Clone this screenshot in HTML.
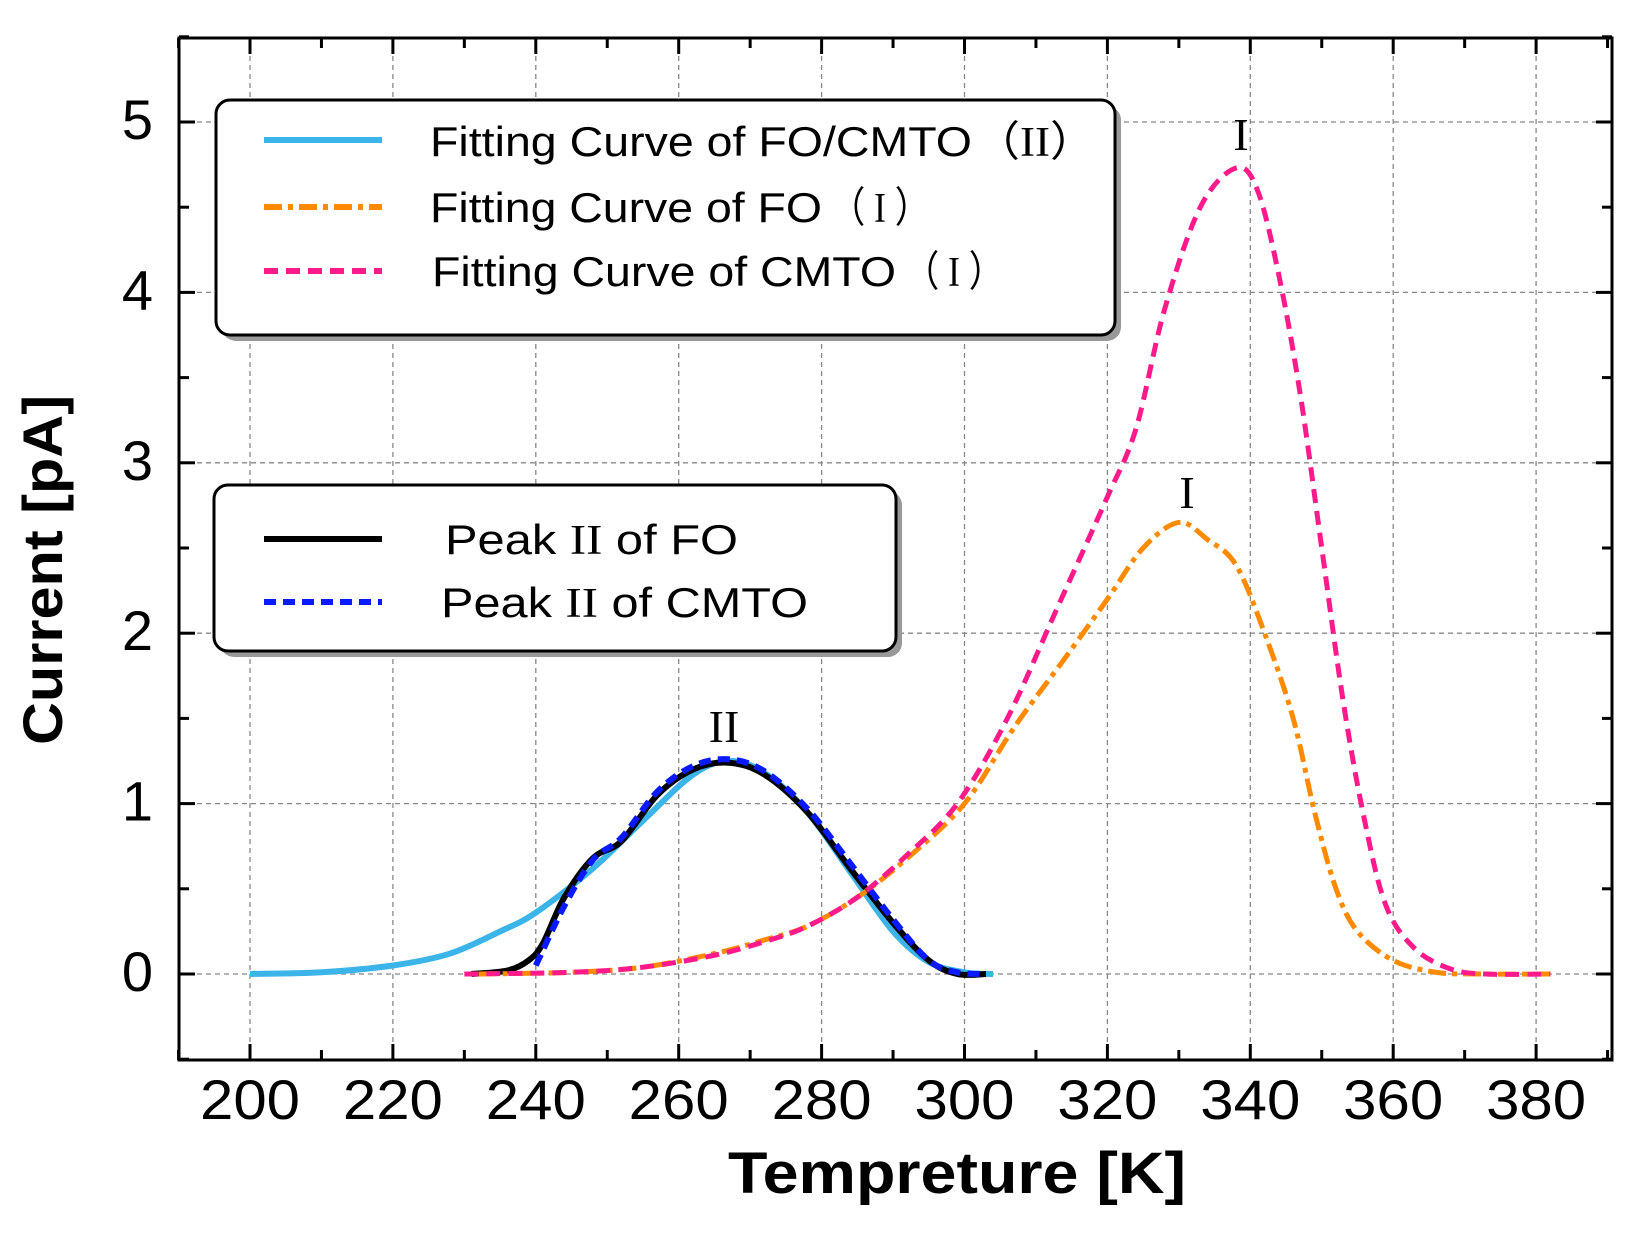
<!DOCTYPE html>
<html><head><meta charset="utf-8"><style>
html,body{margin:0;padding:0;background:#fff;}
svg{display:block;font-family:"Liberation Sans",Arial,sans-serif;}
</style></head><body>
<svg id="s" width="1646" height="1240" viewBox="0 0 1646 1240" xmlns="http://www.w3.org/2000/svg">
<g id="grid" stroke="#888" stroke-width="1.3" stroke-dasharray="5,4"></g>
<g id="curves" fill="none"></g>
<rect x="179" y="38" width="1433" height="1022" fill="none" stroke="#000" stroke-width="3"/>
<g id="ticks" stroke="#000" stroke-width="3"></g>
<g id="labels" font-size="56" fill="#000"></g>
<text x="47" y="570" font-size="56" font-weight="bold" text-anchor="middle" transform="rotate(-90 47 570)" dominant-baseline="middle" textLength="350" lengthAdjust="spacingAndGlyphs">Current [pA]</text>
<text x="728" y="1193" font-size="58" font-weight="bold" textLength="458" lengthAdjust="spacingAndGlyphs">Tempreture  [K]</text>
<text x="1241" y="150" font-size="46" font-family="Liberation Serif,serif" text-anchor="middle">I</text>
<text x="1187" y="508" font-size="46" font-family="Liberation Serif,serif" text-anchor="middle">I</text>
<text x="724" y="742" font-size="46" font-family="Liberation Serif,serif" text-anchor="middle">II</text>
<rect x="222" y="106" width="899" height="235" rx="14" fill="#999"/>
<rect x="216" y="100" width="899" height="235" rx="14" fill="#fff" stroke="#000" stroke-width="3"/>
<line x1="264" y1="140" x2="382" y2="140" stroke="#3bb4ea" stroke-width="6"/>
<line x1="264" y1="207" x2="382" y2="207" stroke="#ff8a00" stroke-width="6" stroke-dasharray="18,6,5,6"/>
<line x1="264" y1="271" x2="382" y2="271" stroke="#ff1a8c" stroke-width="6" stroke-dasharray="14,8"/>
<g font-size="42" fill="#000">
<text x="430" y="156" textLength="542" lengthAdjust="spacingAndGlyphs">Fitting Curve of FO/CMTO</text>
<text x="975" y="156" textLength="120" lengthAdjust="spacingAndGlyphs" font-family="Liberation Serif,serif">（II）</text>
<text x="430" y="222" textLength="392" lengthAdjust="spacingAndGlyphs">Fitting Curve of FO</text>
<text x="830" y="222" textLength="100" lengthAdjust="spacingAndGlyphs" font-family="Liberation Serif,serif">（ I ）</text>
<text x="432" y="286" textLength="464" lengthAdjust="spacingAndGlyphs">Fitting Curve of CMTO</text>
<text x="904" y="286" textLength="100" lengthAdjust="spacingAndGlyphs" font-family="Liberation Serif,serif">（ I ）</text>
</g>
<rect x="220" y="491" width="682" height="166" rx="14" fill="#999"/>
<rect x="214" y="485" width="682" height="166" rx="14" fill="#fff" stroke="#000" stroke-width="3"/>
<line x1="264" y1="539" x2="382" y2="539" stroke="#000" stroke-width="6"/>
<line x1="264" y1="602" x2="382" y2="602" stroke="#0a1aff" stroke-width="6" stroke-dasharray="12,7"/>
<g font-size="42" fill="#000">
<text x="445" y="554" textLength="293" lengthAdjust="spacingAndGlyphs">Peak <tspan font-family="Liberation Serif,serif">II</tspan> of FO</text>
<text x="441" y="617" textLength="367" lengthAdjust="spacingAndGlyphs">Peak <tspan font-family="Liberation Serif,serif">II</tspan> of CMTO</text>
</g>
</svg>
<script>
var NS="http://www.w3.org/2000/svg";
function X(t){return 250+(t-200)*142.9/20;}
function Y(v){return 974-v*170.4;}
function el(p,n,a,txt){var e=document.createElementNS(NS,n);for(var k in a)e.setAttribute(k,a[k]);if(txt!=null)e.textContent=txt;document.getElementById(p).appendChild(e);}
for(var t=200;t<=380;t+=20){el("grid","line",{x1:X(t),x2:X(t),y1:38,y2:1060});
 el("labels","text",{x:X(t),y:1119,"text-anchor":"middle",textLength:100,lengthAdjust:"spacingAndGlyphs"},t);}
for(var v=0;v<=5;v++){el("grid","line",{x1:179,x2:1612,y1:Y(v),y2:Y(v)});
 el("labels","text",{x:153,y:Y(v)+17,"text-anchor":"end"},v);}
for(var t=190;t<=390;t+=10){var L=(t%20==0)?16:10;
 el("ticks","line",{x1:X(t),x2:X(t),y1:1060,y2:1060-L});el("ticks","line",{x1:X(t),x2:X(t),y1:38,y2:38+L});}
for(var v=-0.5;v<=5.5;v+=0.5){var L=(Math.abs(v-Math.round(v))<0.01)?16:10;
 el("ticks","line",{x1:179,x2:179+L,y1:Y(v),y2:Y(v)});el("ticks","line",{x1:1612,x2:1612-L,y1:Y(v),y2:Y(v)});}
function path(pts){var P=pts.map(function(p){return[X(p[0]),Y(p[1])]});var d="M"+P[0][0]+","+P[0][1];
 for(var i=0;i<P.length-1;i++){var p0=P[Math.max(i-1,0)],p1=P[i],p2=P[i+1],p3=P[Math.min(i+2,P.length-1)];
 d+=" C"+(p1[0]+(p2[0]-p0[0])/6)+","+(p1[1]+(p2[1]-p0[1])/6)+" "+(p2[0]-(p3[0]-p1[0])/6)+","+(p2[1]-(p3[1]-p1[1])/6)+" "+p2[0]+","+p2[1];}return d;}
var blue=[[200,0],[210,0.01],[220,0.05],[228,0.12],[235,0.25],[240,0.36],[248,0.62],[255,0.9],[262,1.17],[267,1.25],[272,1.18],[278,0.95],[284,0.6],[290,0.25],[295,0.07],[300,0.01],[304,0]];
var black=[[231,0],[236,0.02],[239,0.08],[241,0.18],[244,0.45],[248,0.68],[252,0.78],[257,1.05],[262,1.2],[267,1.24],[272,1.17],[278,0.95],[284,0.62],[290,0.3],[295,0.08],[299,0],[303,0]];
var dblue=[[240,0.05],[244,0.4],[248,0.67],[252,0.8],[257,1.07],[262,1.22],[267,1.26],[272,1.19],[278,0.97],[284,0.65],[290,0.32],[295,0.08],[299,0.01],[303,0]];
var orange=[[232,0],[245,0.01],[255,0.04],[265,0.12],[272,0.2],[278,0.28],[285,0.45],[292,0.68],[300,1.0],[307,1.45],[314,1.85],[320,2.2],[325,2.5],[330,2.65],[334,2.55],[338,2.4],[342,2.0],[346,1.5],[349,0.95],[352,0.5],[355,0.25],[360,0.08],[366,0.01],[372,0],[382,0]];
var pink=[[230,0],[245,0.01],[255,0.04],[265,0.11],[272,0.19],[278,0.28],[285,0.45],[292,0.7],[299,1.0],[306,1.5],[313,2.15],[320,2.8],[324,3.2],[328,3.9],[333,4.5],[338,4.73],[341,4.6],[344,4.1],[347,3.4],[350,2.5],[353,1.6],[356,0.9],[359,0.4],[363,0.15],[368,0.03],[373,0],[382,0]];
el("curves","path",{d:path(blue),stroke:"#3bb4ea","stroke-width":6});
el("curves","path",{d:path(black),stroke:"#000","stroke-width":6});
el("curves","path",{d:path(dblue),stroke:"#0a1aff","stroke-width":6,"stroke-dasharray":"12,7"});
el("curves","path",{d:path(orange),stroke:"#ff8a00","stroke-width":5,"stroke-dasharray":"18,6,5,6"});
el("curves","path",{d:path(pink),stroke:"#ff1a8c","stroke-width":5,"stroke-dasharray":"14,8"});
</script>
</body></html>
